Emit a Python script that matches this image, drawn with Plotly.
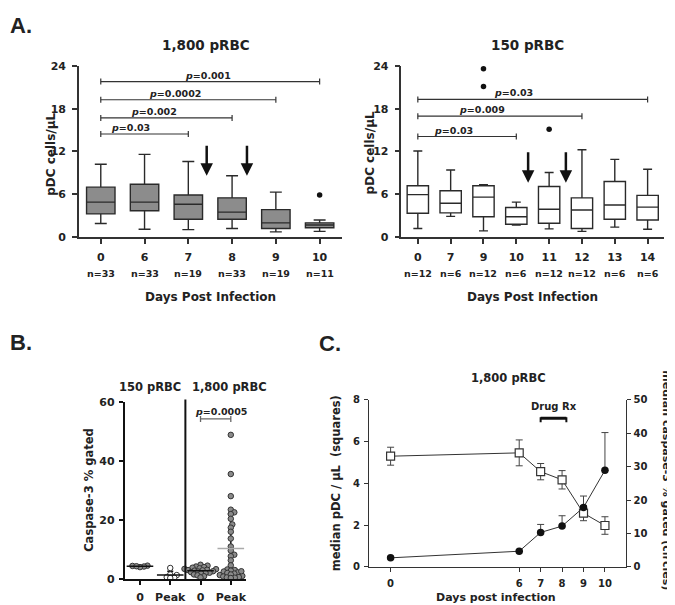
import numpy as np
import plotly.graph_objects as go

W, H = 675, 605
FONT = "DejaVu Sans"
INK = "#222222"
AXC = "#333333"

# ------------------------------------------------------------------ data
# Panel A (left): 1,800 pRBC, pDC cells/uL box plots
a1_days = ["0", "6", "7", "8", "9", "10"]
a1_n = ["n=33", "n=33", "n=19", "n=33", "n=19", "n=11"]
a1_min = [1.9, 1.1, 1.05, 1.2, 0.73, 0.8]
a1_q1 = [3.25, 3.7, 2.5, 2.5, 1.2, 1.3]
a1_med = [4.9, 4.9, 4.6, 3.5, 2.0, 1.7]
a1_q3 = [7.0, 7.4, 5.9, 5.5, 3.85, 2.0]
a1_max = [10.2, 11.6, 10.6, 8.6, 6.3, 2.4]
a1_out_day = ["10"]
a1_out_val = [5.9]
a1_br_from = ["0", "0", "0", "0"]
a1_br_to = ["7", "8", "9", "10"]
a1_br_y = [14.45, 16.7, 19.25, 21.8]
a1_br_lab = ["0.03", "0.002", "0.0002", "0.001"]

# Panel A (right): 150 pRBC
a2_days = ["0", "7", "9", "10", "11", "12", "13", "14"]
a2_n = ["n=12", "n=6", "n=12", "n=6", "n=12", "n=12", "n=6", "n=6"]
a2_min = [1.2, 2.9, 0.87, 1.7, 1.15, 0.8, 1.4, 1.1]
a2_q1 = [3.35, 3.4, 2.85, 1.8, 1.95, 1.2, 2.5, 2.4]
a2_med = [5.95, 4.75, 5.6, 2.85, 3.9, 3.8, 4.5, 4.2]
a2_q3 = [7.2, 6.5, 7.2, 4.15, 7.1, 5.5, 7.8, 5.85]
a2_max = [12.07, 9.4, 7.35, 4.9, 9.05, 12.25, 10.9, 9.5]
a2_out_day = ["9", "9", "11"]
a2_out_val = [23.6, 21.1, 15.1]
a2_br_from = ["0", "0", "0"]
a2_br_to = ["10", "12", "14"]
a2_br_y = [14.1, 16.95, 19.3]
a2_br_lab = ["0.03", "0.009", "0.03"]

# Panel B: caspase-3 % gated
b_groups = ["0", "Peak", "0", "Peak"]
b_150_d0 = [4.5, 4.2, 4.0, 4.4, 4.3]
b_150_peak = [3.7, 1.5, 1.3, 0.6, 0.4, 0.3]
b_1800_d0 = [4.8, 4.5, 4.2, 4.0, 3.8, 3.6, 3.4, 3.3, 3.1, 3.0, 2.9, 2.8, 2.6,
             2.5, 2.3, 2.1, 2.0, 1.8, 1.5, 1.2, 0.9, 0.5]
b_1800_peak = [48.9, 35.6, 28.1, 23.5, 22.6, 22.0, 20.4, 18.5, 17.4, 16.0, 13.7,
               11.0, 9.6, 8.2, 7.7, 6.3, 4.6, 3.0, 3.2, 2.8, 2.5, 2.2, 2.0, 1.8,
               1.5, 1.3, 1.0, 0.8, 0.6, 0.5, 0.4, 0.3, 2.6]
b_p_label = "0.0005"
b_p_y = 54.3

# Panel C: medians over time
c_days = [0, 6, 7, 8, 9, 10]
c_pdc = [5.30, 5.46, 4.56, 4.17, 2.57, 1.98]
c_pdc_err = [0.43, 0.62, 0.39, 0.44, 0.36, 0.42]
c_casp = [2.7, 4.68, 10.3, 12.2, 17.8, 28.9]
c_casp_err_up = [0.0, 0.0, 2.4, 3.1, 3.4, 11.3]
c_drug_days = [7, 8.2]
c_drug_y = 7.12

# ------------------------------------------------------------------ helpers
def fx(p):
    return p / W


def fy(p):
    return 1 - p / H


fig = go.Figure()


def font(size, family=FONT, color=INK):
    return dict(family=family, size=size, color=color, weight="bold")


def text(x, y, s, size, xref="paper", yref="paper", angle=0, xanchor="center",
         yanchor="middle", family=FONT, yshift=0):
    if xref == "paper":
        x = fx(x)
    if yref == "paper":
        y = fy(y)
    fig.add_annotation(x=x, y=y, text=s, showarrow=False, font=font(size, family),
                       textangle=angle, xanchor=xanchor, yanchor=yanchor,
                       xref=xref, yref=yref, yshift=yshift)


def bracket(xr, yr, x0, x1, y, color=AXC, width=1.2, cap=3):
    fig.add_shape(type="line", xref=xr, yref=yr, x0=x0, x1=x1, y0=y, y1=y,
                  line=dict(color=color, width=width))
    for xx in (x0, x1):
        fig.add_shape(type="line", xref=xr, yref=yr, x0=xx, x1=xx,
                      ysizemode="pixel", yanchor=y, y0=-cap, y1=cap,
                      line=dict(color=color, width=width))


def beeswarm(vals, xpx_per_unit, ypx_per_unit, diam):
    order = sorted(range(len(vals)), key=lambda i: vals[i])
    placed = []
    offs = [0.0] * len(vals)
    cands = [0.0]
    for k in range(1, 120):
        cands += [0.5 * k, -0.5 * k]
    for i in order:
        yy = vals[i] * ypx_per_unit
        for c in cands:
            if all((c - px) ** 2 + (yy - py) ** 2 >= diam ** 2 for px, py in placed):
                break
        placed.append((c, yy))
        offs[i] = c / xpx_per_unit
    return offs


axis_base = dict(showline=True, linecolor=AXC, linewidth=1.5, ticks="outside",
                 ticklen=5, tickwidth=1.5, tickcolor=AXC, showgrid=False,
                 zeroline=False, tickfont=font(11), fixedrange=True)

# ------------------------------------------------------------------ panel A
def box_panel(xa, ya, days, q1, med, q3, lo, hi, fill, outd, outv, bfrom, bto,
              by, blab, blabx, arrows_x, arrow_tip, arrow_tail, nlabels):
    idx = list(range(len(days)))
    fig.add_trace(go.Box(x=idx, q1=q1, median=med, q3=q3, lowerfence=lo,
                         upperfence=hi, width=0.65, whiskerwidth=0.42,
                         fillcolor=fill, line=dict(color="#2a2a2a", width=1.4),
                         boxpoints=False, xaxis=xa, yaxis=ya, showlegend=False,
                         hoverinfo="skip"))
    fig.add_trace(go.Scatter(x=[days.index(d) for d in outd], y=outv, mode="markers",
                             marker=dict(size=5.5, color="#111"), xaxis=xa, yaxis=ya,
                             showlegend=False, cliponaxis=False, hoverinfo="skip"))
    for f, t, yv, lab, lx in zip(bfrom, bto, by, blab, blabx):
        bracket(xa, ya, days.index(f), days.index(t), yv)
        text(lx, yv, "<i>p</i>=" + lab, 9.5, xref=xa, yref=ya, yanchor="bottom",
             yshift=-1)
    for ax_ in arrows_x:
        fig.add_annotation(x=ax_, y=arrow_tip, ax=ax_, ay=arrow_tail, xref=xa, yref=ya,
                           axref=xa, ayref=ya, text="", showarrow=True, arrowhead=2,
                           arrowsize=1, arrowwidth=2.5, arrowcolor="#111", standoff=0)
    for i, n in enumerate(nlabels):
        fig.add_annotation(x=i, y=fy(265), xref=xa, yref="paper", text=n,
                           showarrow=False, font=font(9.5), yanchor="middle")


box_panel("x", "y", a1_days, a1_q1, a1_med, a1_q3, a1_min, a1_max, "#8c8c8c",
          a1_out_day, a1_out_val, a1_br_from, a1_br_to, a1_br_y, a1_br_lab,
          [0.68, 1.21, 1.69, 2.44], [2.42, 3.34], 8.6, 13.0, a1_n)
box_panel("x2", "y2", a2_days, a2_q1, a2_med, a2_q3, a2_min, a2_max, "white",
          a2_out_day, a2_out_val, a2_br_from, a2_br_to, a2_br_y, a2_br_lab,
          [1.08, 1.96, 2.9], [3.36, 4.51], 7.6, 12.1, a2_n)

text(198, 32, "1,800 pRBC", 13.5)
text(520, 32, "150 pRBC", 13.5)
text(203, 289, "Days Post Infection", 12)
text(525, 289, "Days Post Infection", 12)
text(43, 143, "pDC cells/μL", 12, angle=-90)
text(362, 142, "pDC cells/μL", 12, angle=-90)
text(0, 12, "A.", 22, xanchor="left", family="Liberation Sans")

# ------------------------------------------------------------------ panel B
b_data = [b_150_d0, b_150_peak, b_1800_d0, b_1800_peak]
b_fill = ["#8a8a8a", "white", "#8a8a8a", "#8a8a8a"]
b_mean_col = ["#111", "#111", "#111", "#aaaaaa"]
for i, vals in enumerate(b_data):
    m = float(np.mean(vals))
    sd = float(np.std(vals, ddof=1))
    fig.add_trace(go.Scatter(x=[i], y=[m], mode="markers", marker=dict(size=1, opacity=0),
                             error_y=dict(type="data", array=[sd], color="#111",
                                          thickness=1.5, width=3),
                             xaxis="x3", yaxis="y3", showlegend=False, hoverinfo="skip"))
    offs = beeswarm(vals, 30.25, 3.01, 3.6)
    fig.add_trace(go.Scatter(x=[i + o for o in offs], y=vals, mode="markers",
                             marker=dict(size=5.5, color=b_fill[i],
                                         line=dict(color="#333", width=1)),
                             xaxis="x3", yaxis="y3", showlegend=False,
                             cliponaxis=False, hoverinfo="skip"))
    fig.add_trace(go.Scatter(x=[i], y=[m], mode="markers",
                             marker=dict(symbol="line-ew", size=19, color=b_mean_col[i],
                                         line=dict(color=b_mean_col[i], width=1.6)),
                             xaxis="x3", yaxis="y3", showlegend=False, hoverinfo="skip"))

fig.add_shape(type="line", xref="x3", yref="paper", x0=1.5, x1=1.5, y0=fy(577.3),
              y1=fy(394), line=dict(color="#111", width=2))
bracket("x3", "y3", 2, 3, b_p_y, color="#666", width=1.3, cap=3)
text(2.67, b_p_y, "<i>p</i>=" + b_p_label, 9.5, xref="x3", yref="y3",
     yanchor="bottom", yshift=0)
text(142.7, 381, "150 pRBC", 11.5)
text(221.7, 381, "1,800 pRBC", 11.5)
text(81.7, 486.7, "Caspase-3 % gated", 11.5, angle=-90)
text(0, 336, "B.", 22, xanchor="left", family="Liberation Sans")

# ------------------------------------------------------------------ panel C
fig.add_trace(go.Scatter(x=c_days, y=c_pdc, mode="lines+markers",
                         line=dict(color="#333", width=1),
                         marker=dict(symbol="square", size=8, color="white",
                                     line=dict(color="#333", width=1.2)),
                         error_y=dict(type="data", array=c_pdc_err, color="#444",
                                      thickness=1, width=3.5),
                         xaxis="x4", yaxis="y4", showlegend=False, hoverinfo="skip"))
fig.add_trace(go.Scatter(x=c_days, y=c_casp, mode="lines+markers",
                         line=dict(color="#333", width=1),
                         marker=dict(symbol="circle", size=7.5, color="#111"),
                         error_y=dict(type="data", symmetric=False, array=c_casp_err_up,
                                      arrayminus=[0] * len(c_days), color="#444",
                                      thickness=1, width=3.5),
                         xaxis="x4", yaxis="y5", showlegend=False, hoverinfo="skip"))

fig.add_shape(type="line", xref="x4", yref="y4", x0=c_drug_days[0], x1=c_drug_days[1],
              y0=c_drug_y, y1=c_drug_y, line=dict(color="#111", width=3))
for xx in c_drug_days:
    fig.add_shape(type="line", xref="x4", yref="y4", x0=xx, x1=xx, ysizemode="pixel",
                  yanchor=c_drug_y, y0=-4, y1=1, line=dict(color="#111", width=2))
text(sum(c_drug_days) / 2, c_drug_y, "Drug Rx", 10, xref="x4", yref="y4",
     yanchor="bottom", yshift=4)

text(501.7, 371.7, "1,800 pRBC", 11.5)
text(489, 596.5, "Days post infection", 11)
text(328, 480, "median pDC / μL  (squares)", 11.5, angle=-90)
text(660, 476.5, "median caspase-3 % gated (circles)", 11, angle=90)
text(309, 337, "C.", 22, xanchor="left", family="Liberation Sans")

# ------------------------------------------------------------------ layout
def ax(**kw):
    d = dict(axis_base)
    d.update(kw)
    return d


fig.update_layout(
    width=W, height=H, autosize=False,
    margin=dict(l=0, r=0, t=0, b=0),
    paper_bgcolor="white", plot_bgcolor="white",
    showlegend=False,
    xaxis=ax(domain=[fx(71), fx(334)], range=[-0.5, 5.5], anchor="y",
             tickvals=list(range(len(a1_days))), ticktext=a1_days,
             ticklabelstandoff=4),
    yaxis=ax(domain=[fy(228), fy(53)], range=[0, 24], anchor="x",
             tickvals=[0, 6, 12, 18, 24], ticklabelstandoff=4),
    xaxis2=ax(domain=[fx(394), fx(657)], range=[-0.5, 7.5], anchor="y2",
              tickvals=list(range(len(a2_days))), ticktext=a2_days,
              ticklabelstandoff=4),
    yaxis2=ax(domain=[fy(228), fy(53)], range=[0, 24], anchor="x2",
              tickvals=[0, 6, 12, 18, 24], ticklabelstandoff=4),
    xaxis3=ax(domain=[fx(117), fx(238.3)], range=[-0.5, 3.5], anchor="y3",
              tickvals=list(range(len(b_groups))), ticktext=b_groups,
              linewidth=2, linecolor="#111", tickcolor="#111", tickwidth=2,
              ticklen=4, ticklabelstandoff=3),
    yaxis3=ax(domain=[fy(577.3), fy(396.7)], range=[0, 60], anchor="x3",
              tickvals=[0, 20, 40, 60], linewidth=2, linecolor="#111",
              tickcolor="#111", tickwidth=2, ticklen=4, ticklabelstandoff=2),
    xaxis4=ax(domain=[fx(361.7), fx(619.3)], range=[-1, 11], anchor="y4",
              tickvals=c_days, ticktext=[str(d) for d in c_days], linewidth=1.2,
              tickwidth=1.2, ticklen=4, tickfont=font(10), ticklabelstandoff=3),
    yaxis4=ax(domain=[fy(565), fy(394.3)], range=[0, 8], anchor="x4",
              tickvals=[0, 2, 4, 6, 8], linewidth=1.2, tickwidth=1.2, ticklen=4,
              tickfont=font(10), ticklabelstandoff=2),
    yaxis5=ax(range=[0, 50], anchor="x4", overlaying="y4", side="right",
              tickvals=[0, 10, 20, 30, 40, 50], linewidth=1.2, tickwidth=1.2,
              ticklen=4, tickfont=font(10), ticklabelstandoff=0),
)

fig.write_html("out.html")
